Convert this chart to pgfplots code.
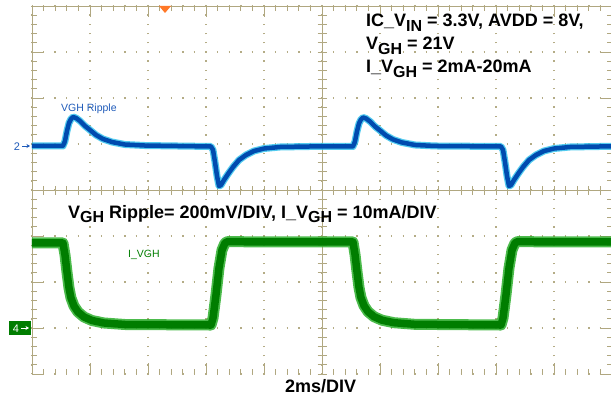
\documentclass[border=0pt]{standalone}
\usepackage{pgfplots}
\pgfplotsset{compat=1.18}
\usetikzlibrary{arrows.meta}
\usepackage{fontspec}
\setmainfont{Liberation Sans}
\definecolor{scopetan}{RGB}{176,167,128}
\definecolor{gridtan}{RGB}{180,172,134}
\definecolor{trblue}{RGB}{0,75,175}
\definecolor{trcyan}{RGB}{40,190,235}
\definecolor{trgreen}{RGB}{0,125,0}
\definecolor{trgreenl}{RGB}{45,175,45}
\definecolor{lblblue}{RGB}{30,90,185}
\definecolor{trigorange}{RGB}{255,120,40}
\newcommand\sub[1]{\raisebox{-4.5pt}{\fontsize{16}{16}\selectfont #1}}
\pgfplotsset{scopeaxis/.style={at={(32pt,26pt)},anchor=south west,width=580pt,height=368pt,scale only axis}}
\pgfplotstableread{
x y
0 0.957
0.534 0.957
0.569 1.065
0.603 1.283
0.638 1.457
0.672 1.543
0.707 1.587
0.759 1.565
0.828 1.500
0.914 1.391
1.000 1.304
1.103 1.196
1.224 1.109
1.379 1.043
1.603 0.989
1.948 0.967
3.086 0.946
3.121 0.870
3.155 0.609
3.190 0.304
3.224 0.087
3.259 0.109
3.310 0.217
3.379 0.348
3.466 0.500
3.569 0.652
3.690 0.761
3.828 0.848
4.000 0.902
4.276 0.935
4.793 0.946
5.534 0.946
5.569 1.055
5.603 1.273
5.638 1.447
5.672 1.533
5.707 1.577
5.759 1.555
5.828 1.490
5.914 1.381
6.000 1.294
6.103 1.186
6.224 1.099
6.379 1.033
6.603 0.979
6.948 0.957
8.086 0.946
8.121 0.870
8.155 0.609
8.190 0.304
8.224 0.087
8.259 0.109
8.310 0.217
8.379 0.348
8.466 0.500
8.569 0.652
8.690 0.761
8.828 0.848
9.000 0.902
9.276 0.935
9.793 0.946
10 0.946
}\ripple
\pgfplotstableread{
x y
0 -1.152
0.534 -1.152
0.569 -1.413
0.603 -1.783
0.638 -2.130
0.672 -2.348
0.724 -2.522
0.793 -2.652
0.897 -2.761
1.034 -2.837
1.241 -2.891
1.603 -2.924
3.086 -2.935
3.121 -2.783
3.172 -2.283
3.224 -1.696
3.276 -1.304
3.328 -1.152
3.379 -1.120
3.931 -1.130
5.534 -1.130
5.569 -1.400
5.603 -1.770
5.638 -2.120
5.672 -2.340
5.724 -2.515
5.793 -2.645
5.897 -2.755
6.034 -2.830
6.241 -2.885
6.603 -2.920
8.086 -2.935
8.121 -2.783
8.172 -2.283
8.224 -1.696
8.276 -1.304
8.328 -1.152
8.379 -1.120
8.931 -1.130
10 -1.130
}\current
\begin{document}
\begin{tikzpicture}
% borders (left and top only)
\begin{axis}[scopeaxis,
  xmin=0,xmax=10,ymin=-4,ymax=4,axis x line*=top,axis y line*=left,
  xtick=\empty,ytick=\empty,axis line style={scopetan,line width=1pt}]
\end{axis}
% centre cross
\begin{axis}[scopeaxis,
  xmin=-5,xmax=5,ymin=-4,ymax=4,axis lines*=middle,
  xtick={-5,...,5},ytick={-4,...,4},minor x tick num=4,minor y tick num=4,
  xticklabels={},yticklabels={},tick align=center,
  major tick length=9pt,minor tick length=9pt,
  tick style={scopetan,line width=0.9pt},axis line style={scopetan,line width=1pt}]
\end{axis}
% main axis with grid, ticks and data
\begin{axis}[scopeaxis,
  xmin=0,xmax=10,ymin=-4,ymax=4,clip=false,
  xtick={0,...,10},ytick={-4,...,4},minor x tick num=4,minor y tick num=4,
  xticklabels={},yticklabels={},tick align=inside,
  major tick length=11pt,minor tick length=5pt,
  tick style={scopetan,line width=0.9pt},
  axis line style={draw=none},
  grid=major,
  major x grid style={gridtan,line width=1.4pt,dash pattern=on 1.4pt off 7.8pt,dash phase=0.7pt},
  major y grid style={gridtan,line width=1.4pt,dash pattern=on 1.4pt off 10.2pt,dash phase=0.7pt}]
\addplot[trcyan,line width=7pt,line join=round,opacity=0.8] table {\ripple};
\addplot[trblue,line width=4.5pt,line join=round] table {\ripple};
\addplot[trgreenl,line width=11pt,line join=round,opacity=0.85] table {\current};
\addplot[trgreen,line width=7.5pt,line join=round] table {\current};
\end{axis}
\begin{scope}[x=1pt,y=1pt]
% trigger marker
\fill[trigorange] (159,394) -- (171,394) -- (165,387) -- cycle;
% channel markers
\node[lblblue,font=\fontsize{11}{11}\selectfont,anchor=base] at (17,250) {2};
\draw[lblblue,line width=0.8pt,-{Stealth[length=3.5pt,width=4pt]}] (22,254) -- (30,254);
\fill[trgreen] (9,65) rectangle (31,79);
\node[white,font=\fontsize{11}{11}\selectfont,anchor=base] at (16,68) {4};
\draw[white,line width=0.8pt,-{Stealth[length=3.5pt,width=4pt]}] (21,72) -- (29,72);
% trace labels
\node[lblblue,font=\fontsize{10.5}{10.5}\selectfont,anchor=base west,inner sep=0pt] at (61,288) {VGH Ripple};
\node[trgreen,font=\fontsize{10.5}{10.5}\selectfont,anchor=base west,inner sep=0pt] at (128,143) {I\_VGH};
% annotations
\begin{scope}[every node/.style={font=\fontsize{18}{18}\selectfont\bfseries,anchor=base west,inner sep=0pt}]
\node at (366,373) {IC\_V\sub{IN} = 3.3V, AVDD = 8V,};
\node at (366,350) {V\sub{GH} = 21V};
\node at (366,327) {I\_V\sub{GH} = 2mA-20mA};
\node at (68,182) {V\sub{GH} Ripple= 200mV/DIV, I\_V\sub{GH} = 10mA/DIV};
\node at (285,8) {2ms/DIV};
\end{scope}
\pgfresetboundingbox
\useasboundingbox (0,0) rectangle (611,400);
\end{scope}
\end{tikzpicture}
\end{document}
